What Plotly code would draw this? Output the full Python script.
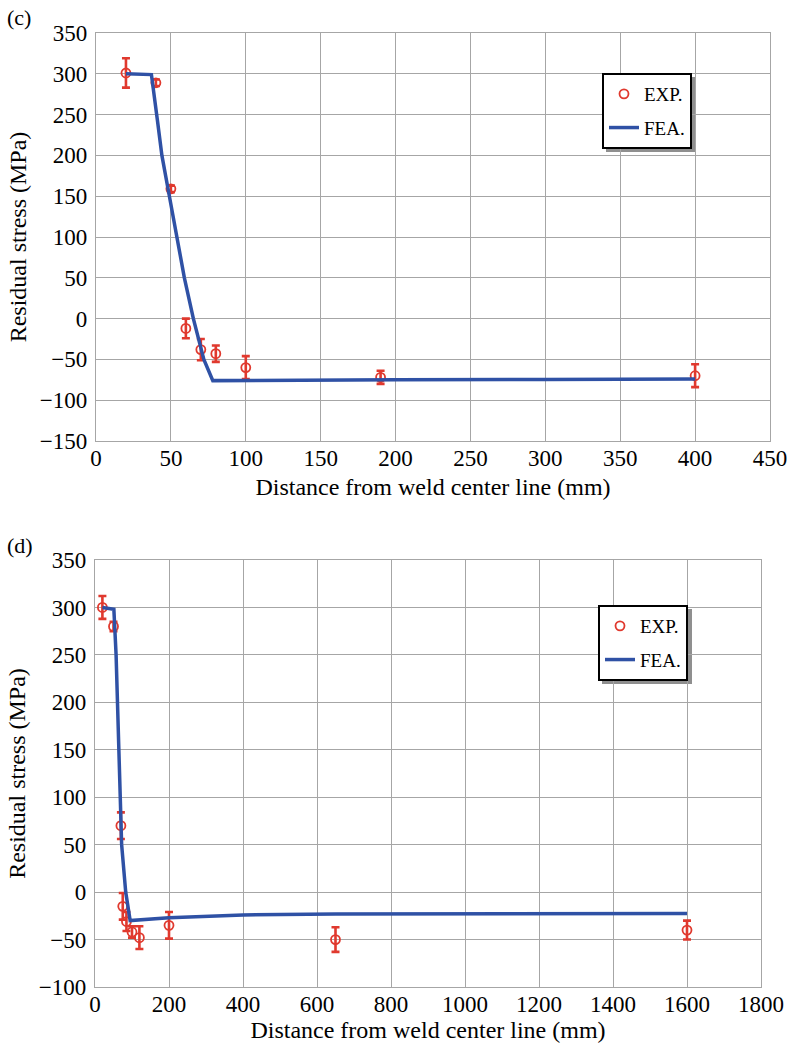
import plotly.graph_objects as go

W, H = 791, 1050

# ---------- Panel (c) data ----------
c_exp_x = [20, 40, 50, 60, 70, 80, 100, 190, 400]
c_exp_y = [301, 289, 159, -12, -38, -43, -60, -72, -70]
c_exp_err = [18, 4, 4, 12, 13, 10, 14, 8, 14]

c_fea_x = [20, 37, 41, 44, 49, 54, 59, 65, 72, 78, 100, 200, 300, 400]
c_fea_y = [300, 299, 243, 200, 150, 100, 50, 0, -50, -76, -76, -75, -74.5, -74]

# ---------- Panel (d) data ----------
d_exp_x = [20, 50, 70, 75, 85, 100, 120, 200, 650, 1600]
d_exp_y = [300, 280, 70, -15, -31, -42, -48, -35, -50, -40]
d_exp_err = [12, 5, 14, 14, 10, 6, 12, 14, 13, 10]

d_fea_x = [20, 51, 57, 61, 72, 83, 95, 200, 400, 650, 1000, 1600]
d_fea_y = [300, 298, 250, 200, 50, 0, -30, -27, -24, -23, -23, -22.5]

RED = "#e0392e"
BLUE = "#2f51a5"
GRID = "#a6a6a6"
FONT = "Liberation Serif, Times New Roman, serif"
TICKFONT = dict(family=FONT, size=23, color="black")
TITLEFONT = dict(family=FONT, size=24, color="black")

fig = go.Figure()

def add_panel(xs, ys, err, fx, fy, xa, ya, leg):
    fig.add_trace(go.Scatter(
        x=xs, y=ys, mode="markers", name="EXP.",
        marker=dict(symbol="circle-open", size=9, color=RED, line=dict(width=1.8, color=RED)),
        error_y=dict(type="data", array=err, visible=True, color=RED, thickness=2.6, width=4),
        xaxis=xa, yaxis=ya, legend=leg, legendgroup=leg + "a",
    ))
    fig.add_trace(go.Scatter(
        x=fx, y=fy, mode="lines", name="FEA.",
        line=dict(color=BLUE, width=3.5),
        xaxis=xa, yaxis=ya, legend=leg, legendgroup=leg + "b",
    ))

add_panel(c_exp_x, c_exp_y, c_exp_err, c_fea_x, c_fea_y, "x", "y", "legend")
add_panel(d_exp_x, d_exp_y, d_exp_err, d_fea_x, d_fea_y, "x2", "y2", "legend2")

def px_x(p):
    return p / W

def px_y(p):
    return 1 - p / H

def ax(domain, rng, dtick, title, anchor, standoff, lblstandoff):
    return dict(
        domain=domain, range=rng, dtick=dtick, anchor=anchor,
        automargin=False,
        showgrid=True, gridcolor=GRID, gridwidth=1.3,
        showline=True, linecolor=GRID, linewidth=1.3, mirror=True,
        zeroline=False, ticks="",
        tickfont=TICKFONT, ticklabelstandoff=lblstandoff,
        title=dict(text=title, font=TITLEFONT, standoff=standoff),
    )

fig.update_layout(
    width=W, height=H,
    margin=dict(l=0, r=0, t=0, b=0, autoexpand=False),
    paper_bgcolor="white", plot_bgcolor="white",
    font=dict(family=FONT, size=21, color="black"),
    xaxis=ax([px_x(96), px_x(770)], [0, 450], 50,
             "Distance from weld center line (mm)", "y", 8, -4),
    yaxis=ax([px_y(441), px_y(33)], [-150, 350], 50,
             "Residual stress (MPa)", "x", 6, 3),
    xaxis2=ax([px_x(95), px_x(761)], [0, 1800], 200,
              "Distance from weld center line (mm)", "y2", 0, -4),
    yaxis2=ax([px_y(987), px_y(560)], [-100, 350], 50,
              "Residual stress (MPa)", "x2", 6, 3),
    legend=dict(x=px_x(602), y=px_y(73), xanchor="left", yanchor="top",
                bgcolor="white", bordercolor="black", borderwidth=2,
                font=dict(family=FONT, size=19, color="black"), tracegroupgap=6,
                traceorder="grouped"),
    legend2=dict(x=px_x(598), y=px_y(605), xanchor="left", yanchor="top",
                 bgcolor="white", bordercolor="black", borderwidth=2,
                 font=dict(family=FONT, size=19, color="black"), tracegroupgap=6,
                 traceorder="grouped"),
    annotations=[
        dict(text="(c)", x=px_x(5), y=px_y(17), xref="paper", yref="paper",
             xanchor="left", yanchor="middle", showarrow=False,
             font=dict(family=FONT, size=22, color="black")),
        dict(text="(d)", x=px_x(5), y=px_y(545), xref="paper", yref="paper",
             xanchor="left", yanchor="middle", showarrow=False,
             font=dict(family=FONT, size=22, color="black")),
    ],
    shapes=[
        dict(type="rect", xref="paper", yref="paper", layer="below",
             x0=px_x(606), x1=px_x(696), y0=px_y(152), y1=px_y(77),
             fillcolor="#8f8f8f", line=dict(width=0)),
        dict(type="rect", xref="paper", yref="paper", layer="below",
             x0=px_x(602), x1=px_x(692), y0=px_y(684), y1=px_y(609),
             fillcolor="#8f8f8f", line=dict(width=0)),
    ],
)

fig.write_html("out.html")
